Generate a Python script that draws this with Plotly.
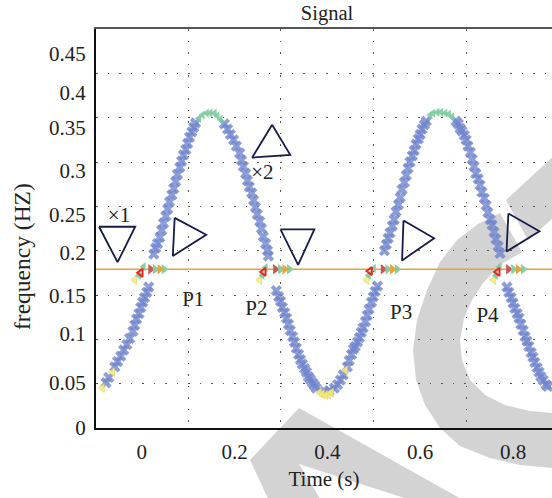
import plotly.graph_objects as go

# ---------------- data ----------------
blue_x = [-0.077,-0.071,-0.058,-0.052,-0.045,-0.039,-0.032,-0.026,-0.019,-0.015,-0.011,-0.006,-0.002,0.002,0.006,0.011,0.015,
          0.026,0.030,0.034,0.039,0.043,0.047,0.052,0.056,0.060,0.065,0.069,0.073,0.077,0.082,0.086,0.090,0.095,0.099,0.103,0.108,0.112,0.116,
          0.178,0.185,0.191,0.198,0.204,0.211,0.215,0.219,0.224,0.228,0.232,0.237,0.241,0.245,0.249,0.254,0.258,0.262,0.267,0.271,0.273,
          0.290,0.295,0.299,0.303,0.308,0.312,0.316,0.320,0.325,0.329,0.333,0.338,0.342,0.346,0.351,0.355,0.359,0.363,0.368,0.372,0.376,0.394,0.404,
          0.415,0.422,0.428,0.434,0.443,0.447,0.452,0.456,0.460,0.465,0.469,0.473,0.477,0.482,0.486,0.490,0.495,0.499,0.503,0.508,
          0.523,0.527,0.531,0.535,0.540,0.544,0.548,0.553,0.557,0.561,0.566,0.570,0.574,0.578,0.583,0.587,0.591,0.596,0.600,0.604,0.609,0.613,
          0.677,0.682,0.686,0.690,0.695,0.699,0.703,0.708,0.712,0.716,0.720,0.725,0.729,0.733,0.738,0.742,0.746,0.751,0.755,0.759,0.763,0.768,0.772,
          0.787,0.791,0.796,0.800,0.804,0.809,0.813,0.817,0.822,0.826,0.830,0.834,0.839,0.843,0.847,0.852,0.856,0.860,0.865,0.871,0.875]
blue_y = [0.051,0.057,0.069,0.075,0.081,0.088,0.094,0.101,0.109,0.116,0.123,0.129,0.136,0.142,0.147,0.153,0.159,
          0.196,0.203,0.208,0.215,0.223,0.231,0.239,0.247,0.255,0.263,0.270,0.278,0.286,0.294,0.301,0.308,0.314,0.321,0.328,0.334,0.339,0.344,
          0.343,0.337,0.331,0.325,0.318,0.310,0.302,0.295,0.287,0.279,0.272,0.265,0.257,0.249,0.241,0.233,0.225,0.216,0.208,0.200,0.194,
          0.155,0.148,0.143,0.136,0.130,0.124,0.117,0.110,0.103,0.097,0.090,0.083,0.077,0.072,0.067,0.063,0.058,0.055,0.051,0.048,0.045,0.041,0.042,
          0.045,0.049,0.054,0.060,0.069,0.076,0.083,0.089,0.092,0.097,0.102,0.108,0.113,0.120,0.127,0.134,0.142,0.148,0.154,0.160,
          0.200,0.207,0.214,0.220,0.228,0.235,0.244,0.252,0.260,0.269,0.277,0.285,0.293,0.300,0.307,0.313,0.320,0.326,0.331,0.337,0.342,0.346,
          0.346,0.343,0.338,0.335,0.330,0.325,0.318,0.311,0.303,0.295,0.287,0.281,0.274,0.266,0.259,0.251,0.243,0.235,0.229,0.221,0.213,0.205,0.197,
          0.159,0.153,0.147,0.141,0.135,0.129,0.124,0.117,0.110,0.103,0.098,0.092,0.085,0.080,0.074,0.068,0.063,0.058,0.054,0.049,0.047]

peak_x = [0.123,0.131,0.140,0.148,0.157,0.163,0.170, 0.622,0.628,0.637,0.645,0.654,0.662,0.669]
peak_y = [0.349,0.353,0.355,0.355,0.355,0.352,0.348, 0.353,0.355,0.356,0.356,0.355,0.354,0.351]

trough_x = [-0.085,-0.063, 0.383,0.389,0.396,0.402,0.409, 0.439, -0.015,0.254,0.485,0.758]
trough_y = [0.045,0.063, 0.040,0.038,0.037,0.038,0.040, 0.065, 0.167,0.167,0.167,0.167]

cross_green_x = [-0.006,0.004, 0.260,0.267, 0.489,0.500, 0.763,0.771]
cross_green_y = [0.172,0.182, 0.172,0.181, 0.172,0.180, 0.172,0.182]
cross_red_x = [-0.002,0.263,0.492,0.767]
cross_red_y = [0.175,0.176,0.177,0.176]

level = 0.179
tri_red_x = [0.019,0.288,0.520,0.790]
tri_green_x = [0.029,0.048, 0.299,0.318, 0.530,0.550, 0.801,0.822]
tri_orange_x = [0.039,0.308,0.540,0.811]

# outline triangles drawn on the chart (three vertices each)
marker_tri_x = [[-0.092,-0.014,-0.052],[0.071,0.067,0.139],[0.281,0.238,0.320],
                [0.299,0.372,0.337],[0.564,0.561,0.630],[0.790,0.786,0.857]]
marker_tri_y = [[0.227,0.227,0.187],[0.237,0.194,0.218],[0.342,0.305,0.308],
                [0.224,0.224,0.184],[0.234,0.189,0.214],[0.242,0.199,0.222]]

note_text = ["×1", "×2", "P1", "P2", "P3", "P4"]
note_x = [-0.049, 0.260, 0.111, 0.247, 0.559, 0.745]
note_y = [0.238, 0.287, 0.144, 0.133, 0.129, 0.125]

x_ticks = [0, 0.2, 0.4, 0.6, 0.8]
x_ticktext = ["0", "0.2", "0.4", "0.6", "0.8"]
x_grid = [0.1, 0.3, 0.5, 0.7]
y_tickpos = [0, 0.0517, 0.1067, 0.1496, 0.1982, 0.2411, 0.2908, 0.3393, 0.378, 0.4225]
y_ticktext = ["0", "0.05", "0.1", "0.15", "0.2", "0.25", "0.3", "0.35", "0.4", "0.45"]
y_grid = [0.05, 0.1, 0.15, 0.2, 0.25, 0.3, 0.35, 0.4]
x_range = [-0.0985, 0.884]
y_range = [0, 0.45]

FONT = "Liberation Serif"
fig = go.Figure()

# ---------------- watermark (light gray, behind everything) ----------------
L, R, T, B = 96, 552, 29, 428
def to_paper(pts):
    return [((px - L) / (R - L), (B - py) / (B - T)) for px, py in pts]
def path(pts):
    pp = to_paper(pts)
    return "M " + " L ".join(f"{a:.4f},{b:.4f}" for a, b in pp) + " Z"

ring = [(500,213),(478,224),(457,240),(440,262),(427,290),(417,320),(413,350),(416,380),(425,405),(440,428),
        (460,446),(490,458),(520,465),(552,468),(560,468),(560,413),(552,413),(530,411),(505,405),(485,395),
        (470,380),(462,360),(460,340),(464,318),(472,300),(483,283),(500,265),(522,252)]
piece = [(506,200),(560,150),(560,212),(528,240)]
wedge = [(299,408),(250,460),(271,505),(324,505),(299,464),(426,505),(472,505)]
for shp in (ring, piece, wedge):
    fig.add_shape(type="path", path=path(shp), xref="paper", yref="paper",
                  fillcolor="#d3d3d3", line_width=0, layer="below")

# dummy trace so the overlay grid axes exist
fig.add_trace(go.Scatter(x=[None], y=[None], xaxis="x2", yaxis="y2", showlegend=False, hoverinfo="skip"))

# orange reference line
fig.add_trace(go.Scatter(x=x_range, y=[level, level], mode="lines",
                         line=dict(color="#e8a33c", width=1.5), showlegend=False, hoverinfo="skip"))

# main signal
fig.add_trace(go.Scatter(x=blue_x, y=blue_y, mode="markers", showlegend=False,
                         marker=dict(symbol="x", size=10, color="rgba(112,132,204,0.8)", line=dict(width=0))))
fig.add_trace(go.Scatter(x=peak_x, y=peak_y, mode="markers", showlegend=False,
                         marker=dict(symbol="triangle-left", size=8, color="rgba(126,204,160,0.9)")))
fig.add_trace(go.Scatter(x=trough_x, y=trough_y, mode="markers", showlegend=False,
                         marker=dict(symbol="triangle-left", size=8, color="rgba(246,236,120,0.9)",
                                     line=dict(color="rgba(220,205,90,1)", width=0.5))))
fig.add_trace(go.Scatter(x=cross_green_x, y=cross_green_y, mode="markers", showlegend=False,
                         marker=dict(symbol="triangle-left", size=8, color="rgba(126,204,160,0.95)")))
fig.add_trace(go.Scatter(x=cross_red_x, y=cross_red_y, mode="markers", showlegend=False,
                         marker=dict(symbol="triangle-left-open", size=7, color="#e8261f", line=dict(width=2))))
fig.add_trace(go.Scatter(x=tri_red_x, y=[level]*len(tri_red_x), mode="markers", showlegend=False,
                         marker=dict(symbol="triangle-right", size=9, color="#c85a55")))
fig.add_trace(go.Scatter(x=tri_green_x, y=[level]*len(tri_green_x), mode="markers", showlegend=False,
                         marker=dict(symbol="triangle-right", size=9, color="#86cfa2")))
fig.add_trace(go.Scatter(x=tri_orange_x, y=[level]*len(tri_orange_x), mode="markers", showlegend=False,
                         marker=dict(symbol="triangle-right", size=9, color="#e6a53a")))

# outline triangles
for tx, ty in zip(marker_tri_x, marker_tri_y):
    fig.add_trace(go.Scatter(x=tx + [tx[0]], y=ty + [ty[0]], mode="lines", showlegend=False,
                             line=dict(color="#161b47", width=1.8), hoverinfo="skip"))

# text notes
fig.add_trace(go.Scatter(x=note_x, y=note_y, mode="text", text=note_text, showlegend=False,
                         textfont=dict(family=FONT, size=21, color="#222")))

# y-axis title (sits below the centre of the axis in the reference)
fig.add_annotation(text="frequency (HZ)", textangle=-90, xref="paper", yref="paper",
                   x=(22 - L) / (R - L), y=(B - 257) / (B - T), xanchor="center", yanchor="middle",
                   showarrow=False, font=dict(family=FONT, size=23.5, color="#222"))

fig.update_layout(
    width=552, height=498,
    margin=dict(l=L, r=0, t=T, b=498 - B),
    paper_bgcolor="white", plot_bgcolor="white",
    font=dict(family=FONT, size=21, color="#222"),
    title=dict(text="Signal", x=327/552, xref="container", xanchor="center",
               y=1 - 13/498, yref="container", yanchor="middle", font=dict(family=FONT, size=20.5, color="#222")),
    xaxis=dict(range=x_range, tickvals=x_ticks, ticktext=x_ticktext, showgrid=False, zeroline=False,
               showline=True, linecolor="#111", linewidth=2, ticks="", ticklabelstandoff=4, automargin=False,
               title=dict(text="Time (s)", standoff=8, font=dict(size=21))),
    yaxis=dict(range=y_range, tickvals=y_tickpos, ticktext=y_ticktext, showgrid=False, zeroline=False,
               showline=True, linecolor="#111", linewidth=2, ticks="", ticklabelstandoff=4, automargin=False),
    xaxis2=dict(range=x_range, overlaying="x", side="top", tickvals=x_grid, showticklabels=False, automargin=False,
                showgrid=True, gridcolor="#555", gridwidth=1, griddash="1.5px,10px", zeroline=False,
                showline=True, linecolor="#555", linewidth=2, ticks=""),
    yaxis2=dict(range=y_range, overlaying="y", side="left", tickvals=y_grid, showticklabels=False, automargin=False,
                showgrid=True, gridcolor="#555", gridwidth=1, griddash="1.5px,10px", zeroline=False,
                showline=False, ticks=""),
)

# remove the browser's default 8px page margin so the figure sits at the window origin
fig.write_html("out.html", config={"displayModeBar": False},
               post_script="document.body.style.margin='0';document.body.style.overflow='hidden';")
